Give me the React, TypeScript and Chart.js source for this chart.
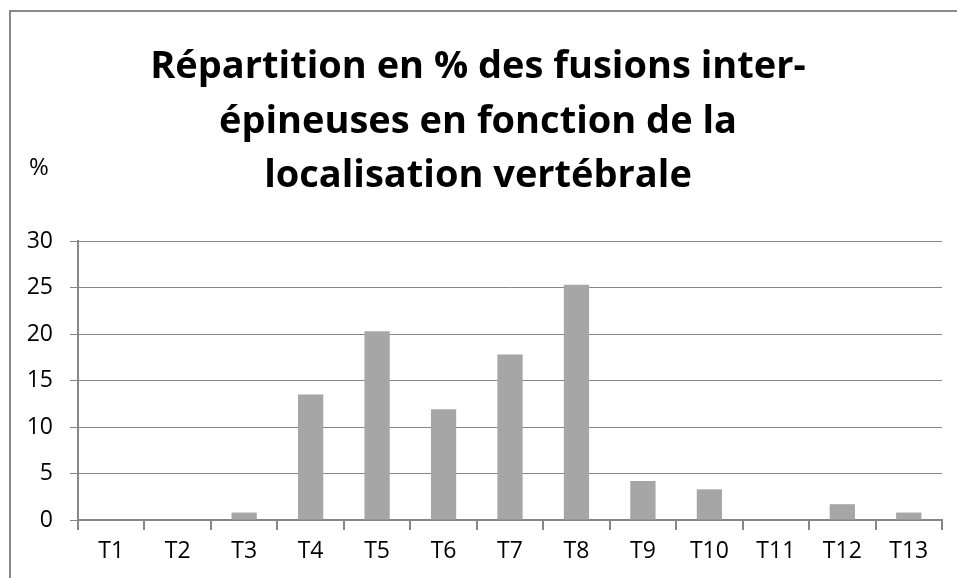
import React, { useEffect, useRef } from "react";
import { Chart, registerables } from "chart.js";

Chart.register(...registerables);

const categories = ["T1", "T2", "T3", "T4", "T5", "T6", "T7", "T8", "T9", "T10", "T11", "T12", "T13"];
const percentages = [0, 0, 0.8, 13.5, 20.3, 11.9, 17.8, 25.3, 4.2, 3.3, 0, 1.7, 0.8];
const titleLines = [
  "Répartition en % des fusions inter-",
  "épineuses en fonction de la",
  "localisation vertébrale",
];
const yAxisUnit = "%";
const yMin = 0;
const yMax = 30;
const yStep = 5;

const FONT = "'Open Sans', Lato, 'DejaVu Sans', sans-serif";
const GRID = "#868686";

export default function App() {
  const ref = useRef<HTMLCanvasElement | null>(null);

  useEffect(() => {
    if (!ref.current) return;
    const decor = {
      id: "decor",
      beforeDraw(chart: any) {
        const ctx = chart.ctx;
        ctx.save();
        ctx.fillStyle = "#ffffff";
        ctx.fillRect(0, 0, chart.width, chart.height);
        ctx.strokeStyle = "#898989";
        ctx.lineWidth = 2;
        ctx.strokeRect(10, 11, chart.width + 20, chart.height + 20);
        ctx.restore();
      },
      afterDraw(chart: any) {
        const ctx = chart.ctx;
        ctx.save();
        ctx.fillStyle = "#000000";
        ctx.textAlign = "center";
        ctx.textBaseline = "alphabetic";
        ctx.font = `bold 38px ${FONT}`;
        const baselines = [78, 133, 187];
        titleLines.forEach((line, i) => {
          ctx.fillText(line, 478, baselines[i]);
        });
        ctx.font = `24px ${FONT}`;
        ctx.fillText(yAxisUnit, 39, 175);
        ctx.restore();
      },
    };

    const chart = new Chart(ref.current, {
      type: "bar",
      data: {
        labels: categories,
        datasets: [
          {
            data: percentages,
            backgroundColor: "#a6a6a6",
            borderWidth: 0,
            barPercentage: 0.38,
            categoryPercentage: 1,
          },
        ],
      },
      options: {
        responsive: false,
        animation: false,
        layout: { padding: { left: 0, right: 15, top: 241, bottom: 0 } },
        plugins: {
          legend: { display: false },
          title: { display: false },
          tooltip: { enabled: false },
        },
        scales: {
          x: {
            offset: true,
            grid: {
              offset: true,
              drawOnChartArea: false,
              drawTicks: true,
              tickLength: 10,
              color: GRID,
              lineWidth: 2,
            },
            border: { display: true, color: GRID, width: 2 },
            ticks: {
              color: "#000000",
              font: { family: FONT, size: 23 },
              padding: 8,
              maxRotation: 0,
              autoSkip: false,
            },
            afterFit(scale: any) {
              scale.height = 58;
            },
          },
          y: {
            min: yMin,
            max: yMax,
            ticks: {
              stepSize: yStep,
              color: "#000000",
              font: { family: FONT, size: 23 },
              padding: 17,
            },
            grid: {
              color: GRID,
              lineWidth: 1,
              tickLength: 8,
              drawTicks: true,
            },
            border: { display: true, color: GRID, width: 2 },
            afterFit(scale: any) {
              scale.width = 78;
            },
          },
        },
      },
      plugins: [decor],
    });
    return () => chart.destroy();
  }, []);

  return (
    <div style={{ position: "fixed", left: 0, top: 0, width: 957, height: 578, background: "#fff" }}>
      <canvas ref={ref} width={957} height={578} style={{ display: "block" }} />
    </div>
  );
}
